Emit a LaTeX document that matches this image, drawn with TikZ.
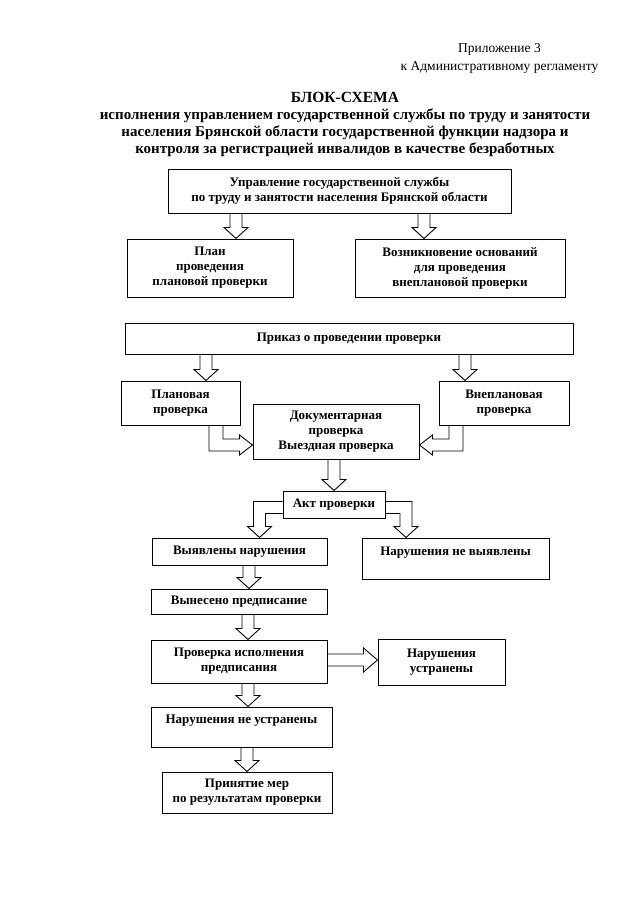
\documentclass[tikz,border=0pt]{standalone}
\usepackage{fontspec}
\setmainfont{Liberation Serif}
\usetikzlibrary{calc}

\tikzset{
  box/.style={draw, line width=1pt, font=\bfseries\fontsize{13}{15}\selectfont, align=center, inner sep=0pt},
  blk/.style={draw, line width=0.9pt, line join=miter},
}

% hollow block arrows: #1 x of stem, #2 from node, #3 to node
\newcommand{\blkdown}[3]{%
  \draw[blk] let \p1=(#2.south), \p2=(#3.north) in
    (#1pt-6pt,\y1) -- (#1pt-6pt,\y2+11pt) -- (#1pt-12pt,\y2+11pt) -- (#1pt,\y2)
    -- (#1pt+12pt,\y2+11pt) -- (#1pt+6pt,\y2+11pt) -- (#1pt+6pt,\y1);}
% #1 x of stem, #2 y of shaft, #3 from node, #4 to node
\newcommand{\blkdownright}[4]{%
  \draw[blk] let \p1=(#3.south), \p2=(#4.west) in
    (#1pt-7pt,\y1) -- (#1pt-7pt,-#2pt-6pt) -- (\x2-13pt,-#2pt-6pt) -- (\x2-13pt,-#2pt-10pt)
    -- (\x2,-#2pt) -- (\x2-13pt,-#2pt+10pt) -- (\x2-13pt,-#2pt+6pt) -- (#1pt+7pt,-#2pt+6pt) -- (#1pt+7pt,\y1);}
\newcommand{\blkdownleft}[4]{%
  \draw[blk] let \p1=(#3.south), \p2=(#4.east) in
    (#1pt+7pt,\y1) -- (#1pt+7pt,-#2pt-6pt) -- (\x2+13pt,-#2pt-6pt) -- (\x2+13pt,-#2pt-10pt)
    -- (\x2,-#2pt) -- (\x2+13pt,-#2pt+10pt) -- (\x2+13pt,-#2pt+6pt) -- (#1pt-7pt,-#2pt+6pt) -- (#1pt-7pt,\y1);}
\newcommand{\blkleftdown}[4]{%
  \draw[blk] let \p1=(#3.west), \p2=(#4.north) in
    (\x1,-#2pt+6pt) -- (#1pt-6pt,-#2pt+6pt) -- (#1pt-6pt,\y2+11pt) -- (#1pt-12pt,\y2+11pt) -- (#1pt,\y2)
    -- (#1pt+12pt,\y2+11pt) -- (#1pt+6pt,\y2+11pt) -- (#1pt+6pt,-#2pt-6pt) -- (\x1,-#2pt-6pt);}
\newcommand{\blkrightdown}[4]{%
  \draw[blk] let \p1=(#3.east), \p2=(#4.north) in
    (\x1,-#2pt+6pt) -- (#1pt+6pt,-#2pt+6pt) -- (#1pt+6pt,\y2+11pt) -- (#1pt+12pt,\y2+11pt) -- (#1pt,\y2)
    -- (#1pt-12pt,\y2+11pt) -- (#1pt-6pt,\y2+11pt) -- (#1pt-6pt,-#2pt-6pt) -- (\x1,-#2pt-6pt);}
% #1 y of shaft, #2 from node, #3 to node
\newcommand{\blkright}[3]{%
  \draw[blk] let \p1=(#2.east), \p2=(#3.west) in
    (\x1,-#1pt+6pt) -- (\x2-14pt,-#1pt+6pt) -- (\x2-14pt,-#1pt+12pt) -- (\x2,-#1pt)
    -- (\x2-14pt,-#1pt-12pt) -- (\x2-14pt,-#1pt-6pt) -- (\x1,-#1pt-6pt);}

\begin{document}
\begin{tikzpicture}[x=1pt,y=-1pt]
  \useasboundingbox (0,0) rectangle (640,905);
  \node[font=\fontsize{13.5}{18}\selectfont, align=center] (appx) at (499.5,58) {Приложение 3\\к Административному регламенту};
  \node[font=\bfseries\fontsize{15.5}{17}\selectfont] (head) at (345,97) {БЛОК-СХЕМА};
  \node[font=\bfseries\fontsize{15}{17}\selectfont, align=center] (title) at (345,133) {исполнения управлением государственной службы по труду и занятости\\населения Брянской области государственной функции надзора и\\контроля за регистрацией инвалидов в качестве безработных};

  \node[box, minimum width=343pt, minimum height=44pt] (b1) at (339.5,191) {Управление государственной службы\\по труду и занятости населения Брянской области};
  \node[box, minimum width=166pt, minimum height=58pt] (plan) at (210,268) {План\\проведения\\плановой проверки};
  \node[box, minimum width=210pt, minimum height=58pt] (vozn) at (460,268) {Возникновение оснований\\для проведения\\внеплановой проверки};
  \node[box, minimum width=448pt, minimum height=31pt] (prikaz) at (349,338.5) {Приказ о проведении проверки};
  \node[box, minimum width=119pt, minimum height=44pt] (planov) at (180.5,403) {Плановая\\проверка};
  \node[box, minimum width=130pt, minimum height=44pt] (vnepl) at (504,403) {Внеплановая\\проверка};
  \node[box, minimum width=166pt, minimum height=55pt] (dok) at (336,431.5) {Документарная\\проверка\\Выездная проверка};
  \node[box, minimum width=102pt, minimum height=27pt] (akt) at (334,504.5) {Акт проверки};
  \node[box, minimum width=175pt, minimum height=27pt] (vyyav) at (239.5,551.5) {Выявлены нарушения};
  \node[box, minimum width=187pt, minimum height=41pt] (nevyyav) at (455.5,558.5) {Нарушения не выявлены\\\mbox{}};
  \node[box, minimum width=176pt, minimum height=25pt] (vynes) at (239,601.5) {Вынесено предписание};
  \node[box, minimum width=176pt, minimum height=43pt] (isp) at (239,661.5) {Проверка исполнения\\предписания};
  \node[box, minimum width=127pt, minimum height=46pt] (ustr) at (441.5,662) {Нарушения\\устранены};
  \node[box, minimum width=181pt, minimum height=40pt] (neustr) at (241.5,727) {Нарушения не устранены\\\mbox{}};
  \node[box, minimum width=170pt, minimum height=41pt] (mery) at (247,792.5) {Принятие мер\\по результатам проверки};

  \blkdown{236}{b1}{plan}
  \blkdown{424}{b1}{vozn}
  \blkdown{206}{prikaz}{planov}
  \blkdown{465}{prikaz}{vnepl}
  \blkdownright{216}{445}{planov}{dok}
  \blkdownleft{456}{445}{vnepl}{dok}
  \blkdown{334}{dok}{akt}
  \blkleftdown{259.5}{507.5}{akt}{vyyav}
  \blkrightdown{406}{507.5}{akt}{nevyyav}
  \blkdown{249}{vyyav}{vynes}
  \blkdown{248}{vynes}{isp}
  \blkright{660}{isp}{ustr}
  \blkdown{248}{isp}{neustr}
  \blkdown{247}{neustr}{mery}
\end{tikzpicture}
\end{document}
